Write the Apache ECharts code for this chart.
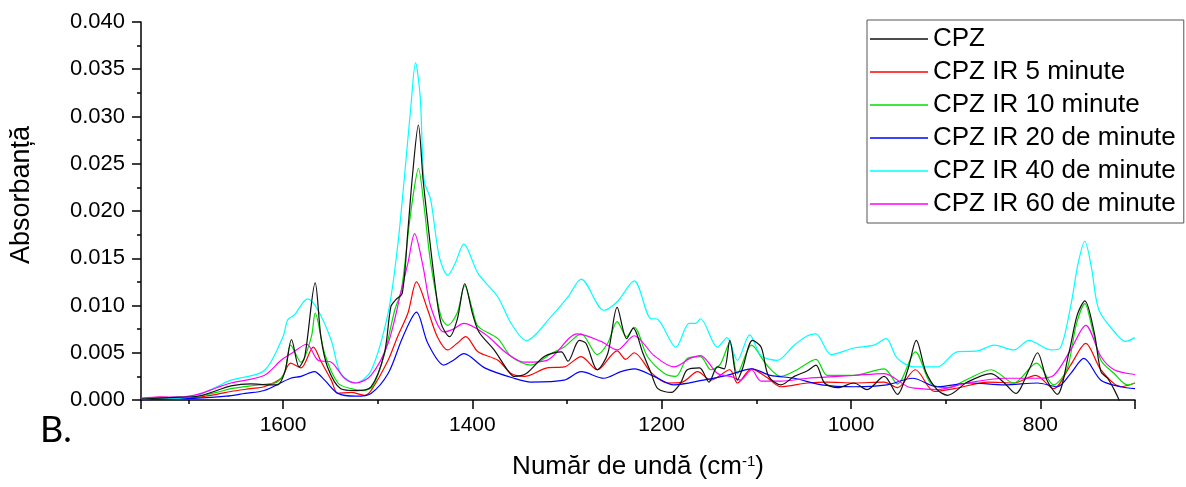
<!DOCTYPE html>
<html>
<head>
<meta charset="utf-8">
<script src="https://cdn.jsdelivr.net/npm/echarts@6/dist/echarts.min.js"></script>
<style>
  html, body { margin: 0; padding: 0; background: #fff; }
  #ftir { width: 1186px; height: 487px; }
</style>
</head>
<body>
<div id="ftir"></div>
<script>
// wavenumber (cm-1), absorbance pairs
const cpz = [
  [1750, 0.0001], [1730, 0.0002], [1710, 0.0003], [1690, 0.0004], [1670, 0.0010], [1655, 0.0015],
  [1634, 0.0017], [1615, 0.0016], [1606, 0.0016], [1598, 0.0030], [1591, 0.0064], [1583, 0.0035],
  [1577, 0.0046], [1566, 0.0124], [1560, 0.0067], [1553, 0.0035], [1539, 0.0012], [1523, 0.0010],
  [1507, 0.0014], [1493, 0.0049], [1486, 0.0099], [1481, 0.0106], [1474, 0.0113], [1468, 0.0180],
  [1463, 0.0240], [1457, 0.0291], [1452, 0.0233], [1447, 0.0187], [1440, 0.0127], [1433, 0.0081],
  [1424, 0.0067], [1416, 0.0085], [1408, 0.0123], [1400, 0.0092], [1393, 0.0072], [1377, 0.0053],
  [1363, 0.0032], [1356, 0.0025], [1343, 0.0028], [1324, 0.0046], [1306, 0.0051], [1299, 0.0041],
  [1287, 0.0063], [1280, 0.0060], [1268, 0.0032], [1257, 0.0049], [1247, 0.0098], [1237, 0.0065],
  [1230, 0.0076], [1220, 0.0050], [1211, 0.0028], [1204, 0.0012], [1190, 0.0008], [1180, 0.0018],
  [1173, 0.0032], [1160, 0.0034], [1150, 0.0019], [1141, 0.0035], [1134, 0.0033], [1128, 0.0063],
  [1120, 0.0021], [1115, 0.0032], [1104, 0.0063], [1095, 0.0056], [1087, 0.0025], [1074, 0.0016],
  [1060, 0.0025], [1046, 0.0031], [1037, 0.0037], [1028, 0.0018], [1014, 0.0013], [997, 0.0018],
  [983, 0.0011], [965, 0.0025], [951, 0.0006], [940, 0.0032], [931, 0.0063], [921, 0.0030],
  [909, 0.0011], [898, 0.0005], [877, 0.0019], [852, 0.0028], [838, 0.0018], [826, 0.0007],
  [812, 0.0032], [803, 0.0050], [793, 0.0021], [782, 0.0006], [770, 0.0049], [761, 0.0090],
  [753, 0.0105], [743, 0.0071], [736, 0.0030], [729, 0.0023], [722, 0.0011], [716, -0.0002],
  [710, -0.0020]
];
const cpz5 = [
  [1750, 0.0001], [1730, 0.0003], [1710, 0.0002], [1690, 0.0003], [1670, 0.0006], [1655, 0.0009],
  [1634, 0.0012], [1620, 0.0014], [1602, 0.0023], [1592, 0.0039], [1581, 0.0034], [1568, 0.0056],
  [1560, 0.0041], [1549, 0.0021], [1542, 0.0007], [1528, 0.0008], [1514, 0.0005], [1507, 0.0010],
  [1489, 0.0042], [1479, 0.0067], [1468, 0.0092], [1459, 0.0125], [1447, 0.0095], [1437, 0.0067],
  [1426, 0.0053], [1416, 0.0060], [1407, 0.0067], [1394, 0.0051], [1373, 0.0042], [1359, 0.0028],
  [1345, 0.0025], [1321, 0.0034], [1303, 0.0035], [1285, 0.0046], [1268, 0.0032], [1247, 0.0052],
  [1238, 0.0043], [1229, 0.0050], [1211, 0.0029], [1194, 0.0018], [1178, 0.0019], [1162, 0.0030],
  [1148, 0.0021], [1128, 0.0032], [1120, 0.0018], [1105, 0.0033], [1089, 0.0024], [1074, 0.0014],
  [1046, 0.0018], [1025, 0.0019], [997, 0.0018], [965, 0.0019], [951, 0.0013], [932, 0.0032],
  [912, 0.0009], [891, 0.0012], [855, 0.0019], [828, 0.0018], [805, 0.0026], [786, 0.0012],
  [768, 0.0037], [752, 0.0060], [736, 0.0032], [715, 0.0014], [700, 0.0018]
];
const cpz10 = [
  [1750, 0.0001], [1730, 0.0002], [1710, 0.0002], [1690, 0.0004], [1670, 0.0008], [1655, 0.0012],
  [1634, 0.0015], [1615, 0.0017], [1606, 0.0019], [1598, 0.0030], [1592, 0.0058], [1581, 0.0040],
  [1570, 0.0067], [1566, 0.0092], [1556, 0.0049], [1542, 0.0018], [1528, 0.0012], [1515, 0.0010],
  [1505, 0.0015], [1493, 0.0048], [1482, 0.0095], [1475, 0.0116], [1467, 0.0183], [1462, 0.0220],
  [1457, 0.0245], [1451, 0.0205], [1444, 0.0145], [1433, 0.0088], [1426, 0.0079], [1416, 0.0092],
  [1408, 0.0121], [1400, 0.0096], [1394, 0.0078], [1373, 0.0065], [1359, 0.0046], [1338, 0.0037],
  [1317, 0.0049], [1303, 0.0056], [1285, 0.0070], [1268, 0.0048], [1257, 0.0060], [1247, 0.0083],
  [1237, 0.0067], [1229, 0.0077], [1215, 0.0046], [1197, 0.0028], [1185, 0.0025], [1173, 0.0044],
  [1159, 0.0046], [1148, 0.0032], [1138, 0.0038], [1128, 0.0061], [1120, 0.0028], [1105, 0.0058],
  [1089, 0.0037], [1074, 0.0025], [1057, 0.0032], [1037, 0.0043], [1025, 0.0026], [997, 0.0026],
  [965, 0.0033], [951, 0.0017], [932, 0.0051], [916, 0.0018], [898, 0.0013], [877, 0.0022],
  [852, 0.0032], [828, 0.0018], [804, 0.0039], [786, 0.0016], [772, 0.0032], [762, 0.0080],
  [753, 0.0102], [745, 0.0075], [736, 0.0042], [722, 0.0028], [708, 0.0016], [700, 0.0018]
];
const cpz20 = [
  [1750, 0.0000], [1720, 0.0001], [1690, 0.0002], [1660, 0.0004], [1640, 0.0007], [1620, 0.0010],
  [1592, 0.0023], [1581, 0.0025], [1567, 0.0030], [1556, 0.0021], [1542, 0.0007], [1523, 0.0004],
  [1507, 0.0007], [1489, 0.0028], [1475, 0.0063], [1465, 0.0085], [1459, 0.0093], [1447, 0.0060],
  [1430, 0.0037], [1420, 0.0042], [1409, 0.0049], [1387, 0.0034], [1356, 0.0023], [1338, 0.0019],
  [1303, 0.0021], [1285, 0.0030], [1261, 0.0023], [1243, 0.0030], [1229, 0.0033], [1208, 0.0025],
  [1187, 0.0016], [1156, 0.0021], [1131, 0.0026], [1105, 0.0033], [1085, 0.0026], [1060, 0.0023],
  [1031, 0.0016], [997, 0.0014], [962, 0.0016], [935, 0.0023], [909, 0.0014], [874, 0.0018],
  [838, 0.0016], [803, 0.0018], [782, 0.0014], [768, 0.0028], [754, 0.0044], [736, 0.0021],
  [715, 0.0014], [700, 0.0012]
];
const cpz40 = [
  [1750, 0.0001], [1730, 0.0002], [1710, 0.0002], [1690, 0.0005], [1670, 0.0014], [1655, 0.0021],
  [1620, 0.0031], [1600, 0.0067], [1595, 0.0085], [1588, 0.0090], [1574, 0.0107], [1563, 0.0095],
  [1549, 0.0063], [1539, 0.0028], [1523, 0.0018], [1507, 0.0031], [1489, 0.0092], [1479, 0.0162],
  [1472, 0.0233], [1465, 0.0310], [1460, 0.0357], [1455, 0.0320], [1451, 0.0233], [1444, 0.0212],
  [1435, 0.0152], [1426, 0.0132], [1418, 0.0145], [1409, 0.0165], [1394, 0.0134], [1373, 0.0109],
  [1359, 0.0081], [1343, 0.0063], [1317, 0.0088], [1299, 0.0109], [1285, 0.0128], [1261, 0.0095],
  [1247, 0.0104], [1229, 0.0126], [1211, 0.0086], [1206, 0.0086], [1185, 0.0056], [1171, 0.0081],
  [1164, 0.0081], [1159, 0.0086], [1141, 0.0056], [1131, 0.0066], [1120, 0.0042], [1107, 0.0069],
  [1095, 0.0047], [1078, 0.0042], [1060, 0.0058], [1046, 0.0068], [1037, 0.0070], [1021, 0.0048],
  [997, 0.0055], [976, 0.0058], [963, 0.0065], [951, 0.0044], [933, 0.0035], [909, 0.0035],
  [888, 0.0051], [866, 0.0052], [849, 0.0058], [828, 0.0053], [812, 0.0063], [789, 0.0053],
  [779, 0.0055], [768, 0.0099], [760, 0.0145], [753, 0.0168], [746, 0.0140], [738, 0.0095],
  [719, 0.0069], [710, 0.0062], [700, 0.0066]
];
const cpz60 = [
  [1750, 0.0002], [1730, 0.0003], [1710, 0.0003], [1690, 0.0006], [1670, 0.0013], [1655, 0.0018],
  [1620, 0.0026], [1602, 0.0042], [1590, 0.0050], [1575, 0.0059], [1563, 0.0042], [1549, 0.0040],
  [1535, 0.0023], [1523, 0.0018], [1507, 0.0026], [1489, 0.0060], [1475, 0.0116], [1468, 0.0145],
  [1461, 0.0176], [1452, 0.0141], [1444, 0.0099], [1430, 0.0072], [1420, 0.0075], [1409, 0.0081],
  [1387, 0.0070], [1363, 0.0049], [1345, 0.0040], [1321, 0.0042], [1289, 0.0070], [1264, 0.0062],
  [1247, 0.0053], [1229, 0.0068], [1208, 0.0047], [1187, 0.0035], [1170, 0.0044], [1159, 0.0047],
  [1141, 0.0028], [1127, 0.0025], [1117, 0.0021], [1105, 0.0032], [1095, 0.0020], [1074, 0.0020],
  [1046, 0.0023], [1014, 0.0025], [997, 0.0026], [965, 0.0028], [940, 0.0014], [927, 0.0012],
  [909, 0.0011], [877, 0.0018], [838, 0.0023], [803, 0.0023], [786, 0.0026], [768, 0.0053],
  [752, 0.0079], [736, 0.0046], [722, 0.0032], [700, 0.0027]
];

const seriesNames = ['CPZ', 'CPZ IR 5 minute', 'CPZ IR 10 minute', 'CPZ IR 20 de minute', 'CPZ IR 40 de minute', 'CPZ IR 60 de minute'];
const seriesData = [cpz, cpz5, cpz10, cpz20, cpz40, cpz60];
const seriesColors = ['#111111', '#ff0000', '#00dd00', '#0000ff', '#00ffff', '#ff00ff'];

const font = '"Liberation Sans", Arial, sans-serif';

const chartDom = document.getElementById('ftir');
const myChart = echarts.init(chartDom, null, { renderer: 'canvas' });

const option = {
  backgroundColor: '#fff',
  animation: false,
  grid: { left: 139, right: 51, top: 22, bottom: 87 },
  legend: {
    data: seriesNames,
    orient: 'vertical',
    left: 867,
    top: 20,
    padding: [6, 8, 6, 3],
    icon: 'rect',
    itemWidth: 58,
    itemHeight: 1.5,
    itemGap: 7,
    borderColor: '#555',
    borderWidth: 1,
    backgroundColor: '#fff',
    textStyle: { fontFamily: font, fontSize: 26, lineHeight: 25, color: '#000' }
  },
  graphic: [
    {
      type: 'text',
      left: 40,
      top: 412,
      style: { text: 'B.', font: '36px Lato, "Open Sans", sans-serif', fill: '#000' }
    }
  ],
  xAxis: {
    type: 'value',
    inverse: true,
    min: 700,
    max: 1750,
    splitNumber: 5,
    name: 'Număr de undă (cm{sup|-1})',
    nameLocation: 'middle',
    nameGap: 54,
    nameTextStyle: {
      fontFamily: font, fontSize: 26, color: '#000',
      rich: { sup: { fontFamily: font, fontSize: 15, verticalAlign: 'top', color: '#000' } }
    },
    axisLine: { lineStyle: { color: '#000', width: 1.5 } },
    axisTick: { show: true, length: 9, lineStyle: { color: '#000', width: 1.5 } },
    minorTick: { show: true, splitNumber: 2, length: 4, lineStyle: { color: '#000', width: 1.5 } },
    splitLine: { show: false },
    axisLabel: {
      margin: 15,
      fontFamily: font, fontSize: 21, color: '#000',
      formatter: (v) => (v % 200 === 0 ? String(v) : '')
    }
  },
  yAxis: {
    type: 'value',
    min: 0,
    max: 0.04,
    interval: 0.005,
    name: 'Absorbanță',
    nameLocation: 'middle',
    nameGap: 106,
    nameTextStyle: { fontFamily: font, fontSize: 27, color: '#000', padding: [0, 0, 0, 32] },
    axisLine: { show: true, lineStyle: { color: '#000', width: 1.5 } },
    axisTick: { show: true, length: 9, lineStyle: { color: '#000', width: 1.5 } },
    minorTick: { show: true, splitNumber: 2, length: 4, lineStyle: { color: '#000', width: 1.5 } },
    splitLine: { show: false },
    axisLabel: {
      margin: 16,
      fontFamily: font, fontSize: 22, color: '#000',
      formatter: (v) => v.toFixed(3)
    }
  },
  series: seriesNames.map((name, i) => ({
    name: name,
    type: 'line',
    data: seriesData[i],
    symbol: 'none',
    smooth: 0.3,
    z: i === 0 ? 4 : 2,
    color: seriesColors[i],
    lineStyle: { color: seriesColors[i], width: 1.2 }
  }))
};

myChart.setOption(option);
</script>
</body>
</html>
